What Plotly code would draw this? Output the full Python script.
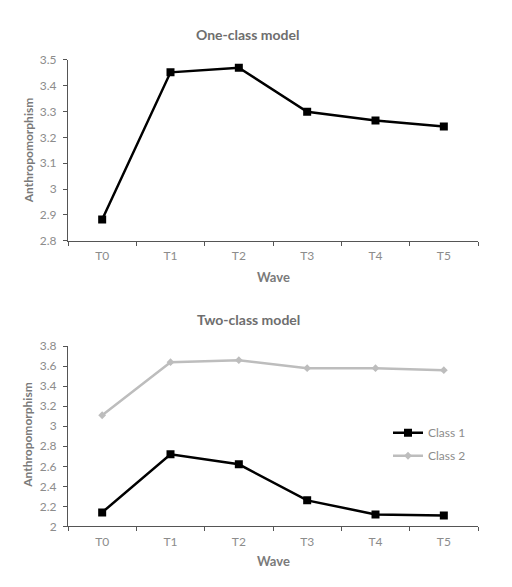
import plotly.graph_objects as go

waves = ["T0", "T1", "T2", "T3", "T4", "T5"]
one_class = [2.883, 3.451, 3.469, 3.299, 3.265, 3.242]
class1 = [2.14, 2.72, 2.62, 2.26, 2.12, 2.11]
class2 = [3.11, 3.64, 3.66, 3.58, 3.58, 3.56]

W, H = 512, 587
def fy(top, bottom):
    return [1 - bottom / H, 1 - top / H]

FONT = "Lato"
TICK = dict(family=FONT, size=12, color="#8c8c8c")

fig = go.Figure()
fig.add_trace(go.Scatter(x=waves, y=one_class, mode="lines+markers",
                         line=dict(color="black", width=2.5),
                         marker=dict(symbol="square", size=8, color="black"),
                         showlegend=False, xaxis="x", yaxis="y"))
fig.add_trace(go.Scatter(x=waves, y=class1, mode="lines+markers", name="Class 1",
                         legendgroup="c1",
                         line=dict(color="black", width=2.5),
                         marker=dict(symbol="square", size=8, color="black"),
                         xaxis="x2", yaxis="y2"))
fig.add_trace(go.Scatter(x=waves, y=class2, mode="lines+markers", name="Class 2",
                         legendgroup="c2",
                         line=dict(color="#bdbdbd", width=2.5),
                         marker=dict(symbol="diamond", size=6, color="#bdbdbd"),
                         xaxis="x2", yaxis="y2"))

xdom = [68 / W, 478 / W]
common_x = dict(type="category", tickson="boundaries", ticks="outside", ticklen=4,
                tickcolor="#555", showline=True, linecolor="#555", linewidth=1,
                showgrid=False, zeroline=False, tickfont=TICK, range=[-0.5, 5.5],
                ticklabelstandoff=4)
common_y = dict(ticks="outside", ticklen=4, tickcolor="#555", showline=True,
                linecolor="#555", linewidth=1, showgrid=False, zeroline=False,
                tickfont=TICK, ticklabelstandoff=4)

def label(text, x, y, angle=0, size=13, color="#7a7a7a"):
    return dict(text=f"<b>{text}</b>", x=x / W, y=1 - y / H, xref="paper", yref="paper",
                showarrow=False, textangle=angle, xanchor="center", yanchor="middle",
                font=dict(family=FONT, size=size, color=color))

fig.update_layout(
    width=W, height=H, margin=dict(l=0, r=0, t=0, b=0),
    paper_bgcolor="white", plot_bgcolor="white",
    xaxis=dict(common_x, domain=xdom, anchor="y"),
    yaxis=dict(common_y, domain=fy(53, 239), anchor="x", range=[2.8, 3.5], dtick=0.1,
               tickformat="~g"),
    xaxis2=dict(common_x, domain=xdom, anchor="y2"),
    yaxis2=dict(common_y, domain=fy(347, 532), anchor="x2", range=[2.0, 3.8], dtick=0.2,
                tickformat="~g"),
    legend=dict(x=388 / W, y=1 - 421 / H, xanchor="left", yanchor="top",
                font=dict(family=FONT, size=12, color="#8c8c8c"),
                bgcolor="rgba(0,0,0,0)", tracegroupgap=4, itemwidth=30),
    annotations=[
        label("One-class model", 248, 27, size=14, color="#6e6e6e"),
        label("Two-class model", 248, 320, size=14, color="#6e6e6e"),
        label("Anthropomorphism", 28, 146, angle=-90, size=12),
        label("Anthropomorphism", 28, 438, angle=-90, size=12),
        label("Wave", 273, 276),
        label("Wave", 273, 568),
    ],
)

fig.write_html("out.html")
